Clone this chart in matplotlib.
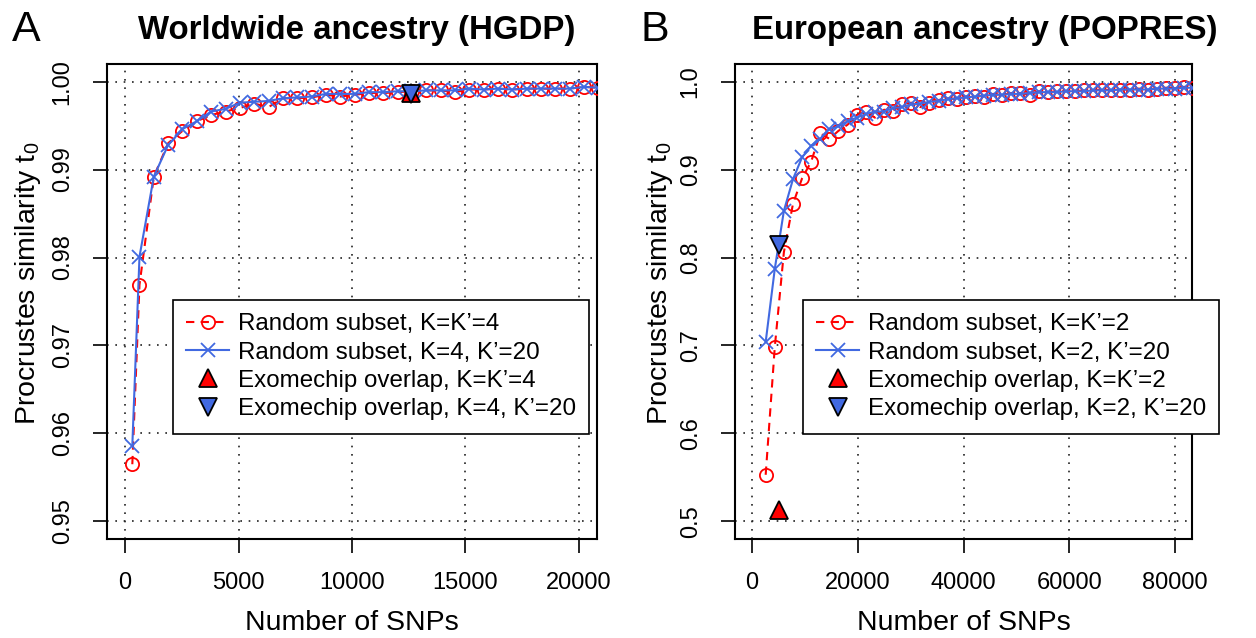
import matplotlib
matplotlib.use("Agg")
import matplotlib.pyplot as plt
from matplotlib.lines import Line2D

plt.rcParams["font.family"] = ["Liberation Sans", "DejaVu Sans"]
plt.rcParams["mathtext.fontset"] = "custom"
plt.rcParams["mathtext.rm"] = "Liberation Sans"
plt.rcParams["mathtext.it"] = "Liberation Sans"

# ---- Panel A: worldwide ancestry (HGDP) ----
hgdp_snps = [316, 632, 1264, 1896, 2528, 3160, 3792, 4424, 5056, 5688, 6320,
             6952, 7584, 8216, 8848, 9480, 10112, 10744, 11376, 12008, 12640,
             13272, 13904, 14536, 15168, 15800, 16432, 17064, 17696, 18328,
             18960, 19592, 20224, 20856]
hgdp_k4 = [0.9565, 0.9769, 0.9892, 0.9930, 0.9944, 0.9955, 0.9962, 0.9966,
           0.9970, 0.9975, 0.9971, 0.9981, 0.9981, 0.9982, 0.9985, 0.9983,
           0.9985, 0.9987, 0.9987, 0.9988, 0.9989, 0.9990, 0.9990, 0.9988,
           0.9991, 0.9991, 0.9992, 0.9991, 0.9992, 0.9992, 0.9992, 0.9992,
           0.9994, 0.9993]
hgdp_k20 = [0.9586, 0.9801, 0.9892, 0.9928, 0.9946, 0.9955, 0.9966, 0.9969,
            0.9976, 0.9977, 0.9978, 0.9981, 0.9982, 0.9983, 0.9986, 0.9986,
            0.9986, 0.9988, 0.9988, 0.9989, 0.9989, 0.9990, 0.9990, 0.9990,
            0.9992, 0.9991, 0.9992, 0.9991, 0.9992, 0.9992, 0.9992, 0.9992,
            0.9994, 0.9993]
hgdp_exome_snps = 12600
hgdp_exome_k4 = 0.9987
hgdp_exome_k20 = 0.9986

# ---- Panel B: European ancestry (POPRES) ----
popres_snps = [2600, 4320, 6040, 7760, 9480, 11200, 12920, 14640, 16360,
               18080, 19800, 21520, 23240, 24960, 26680, 28400, 30120, 31840,
               33560, 35280, 37000, 38720, 40440, 42160, 43880, 45600, 47320,
               49040, 50760, 52480, 54200, 55920, 57640, 59360, 61080, 62800,
               64520, 66240, 67960, 69680, 71400, 73120, 74840, 76560, 78280,
               80000, 81720, 83440]
popres_k2 = [0.553, 0.698, 0.806, 0.861, 0.890, 0.909, 0.941, 0.935, 0.944,
             0.951, 0.962, 0.966, 0.959, 0.968, 0.967, 0.974, 0.976, 0.971,
             0.976, 0.979, 0.981, 0.980, 0.983, 0.984, 0.983, 0.986, 0.985,
             0.987, 0.987, 0.985, 0.989, 0.988, 0.989, 0.989, 0.989, 0.990,
             0.990, 0.991, 0.990, 0.991, 0.991, 0.992, 0.991, 0.992, 0.993,
             0.993, 0.994, 0.993]
popres_k20 = [0.704, 0.787, 0.853, 0.889, 0.914, 0.927, 0.935, 0.946, 0.949,
              0.955, 0.959, 0.963, 0.966, 0.966, 0.970, 0.971, 0.974, 0.975,
              0.977, 0.978, 0.980, 0.981, 0.982, 0.983, 0.984, 0.985, 0.985,
              0.986, 0.986, 0.987, 0.988, 0.988, 0.988, 0.989, 0.989, 0.989,
              0.990, 0.990, 0.990, 0.991, 0.991, 0.991, 0.991, 0.992, 0.992,
              0.992, 0.993, 0.993]
popres_exome_snps = 5120
popres_exome_k2 = 0.513
popres_exome_k20 = 0.814

RED = "#FF0000"
BLUE = "#4169E1"

TICK_FS = 17
LABEL_FS = 20.5
TITLE_FS = 23.8
LEG_FS = 17.4


def draw_panel(ax, x, y_same, y_k20, ex_x, ex_same, ex_k20, xlim, ylim,
               xticks, yticks, ytick_labels, legend_labels, legend_anchor):
    ax.set_xlim(xlim[0] - 0.04 * (xlim[1] - xlim[0]),
                xlim[1] + 0.04 * (xlim[1] - xlim[0]))
    ax.set_ylim(ylim[0] - 0.04 * (ylim[1] - ylim[0]),
                ylim[1] + 0.04 * (ylim[1] - ylim[0]))
    for t in xticks:
        ax.axvline(t, color="#222222", lw=1.2, ls=(0, (1, 4)), zorder=1)
    for t in yticks:
        ax.axhline(t, color="#222222", lw=1.2, ls=(0, (1, 4)), zorder=1)

    ax.plot(x, y_same, color=RED, ls=(0, (4, 3)), lw=1.5, marker="o",
            ms=9.5, mfc="none", mec=RED, mew=1.3, zorder=3)
    ax.plot(x, y_k20, color=BLUE, ls="-", lw=1.5, marker="x",
            ms=10, mec=BLUE, mew=1.3, zorder=4)
    ax.plot([ex_x], [ex_same], ls="none", marker="^", ms=13, mfc=RED,
            mec="black", mew=1.3, zorder=5)
    ax.plot([ex_x], [ex_k20], ls="none", marker="v", ms=13, mfc=BLUE,
            mec="black", mew=1.3, zorder=6)

    ax.set_xticks(xticks)
    ax.set_xticklabels([str(t) for t in xticks])
    ax.set_yticks(yticks)
    ax.set_yticklabels(ytick_labels, rotation=90, va="center")
    ax.tick_params(axis="both", direction="out", length=10, width=1.2,
                   labelsize=TICK_FS, top=False, right=False, pad=14)
    for s in ax.spines.values():
        s.set_linewidth(1.5)
        s.set_color("black")

    ax.set_xlabel("Number of SNPs", fontsize=LABEL_FS, labelpad=11)
    ax.set_ylabel("Procrustes similarity t$_0$", fontsize=LABEL_FS)
    ax.yaxis.set_label_coords(-0.131, 0.539)

    handles = [
        Line2D([], [], color=RED, ls=(0, (4, 3)), lw=1.5, marker="o",
               ms=9.5, mfc="none", mec=RED, mew=1.3),
        Line2D([], [], color=BLUE, ls="-", lw=1.5, marker="x", ms=10,
               mec=BLUE, mew=1.3),
        Line2D([], [], ls="none", marker="^", ms=13, mfc=RED, mec="black",
               mew=1.3),
        Line2D([], [], ls="none", marker="v", ms=13, mfc=BLUE, mec="black",
               mew=1.3),
    ]
    leg = ax.legend(handles, legend_labels, loc="upper left",
                    bbox_to_anchor=legend_anchor, fontsize=LEG_FS,
                    frameon=True, fancybox=False, framealpha=1,
                    edgecolor="black", borderpad=0.55, labelspacing=0.26,
                    handlelength=1.75, handletextpad=0.38, borderaxespad=0)
    leg.get_frame().set_linewidth(1.2)
    leg.set_zorder(10)


fig = plt.figure(figsize=(12.56, 6.38), dpi=100)
ax1 = fig.add_axes([107 / 1256, 1 - 539 / 638, 490 / 1256, 475 / 638])
ax2 = fig.add_axes([735 / 1256, 1 - 539 / 638, 457 / 1256, 475 / 638])

draw_panel(ax1, hgdp_snps, hgdp_k4, hgdp_k20, hgdp_exome_snps,
           hgdp_exome_k4, hgdp_exome_k20, (0, 20000), (0.95, 1.0),
           [0, 5000, 10000, 15000, 20000],
           [0.95, 0.96, 0.97, 0.98, 0.99, 1.00],
           ["0.95", "0.96", "0.97", "0.98", "0.99", "1.00"],
           ["Random subset, K=K’=4", "Random subset, K=4, K’=20",
            "Exomechip overlap, K=K’=4", "Exomechip overlap, K=4, K’=20"],
           (0.135, 0.503))

draw_panel(ax2, popres_snps, popres_k2, popres_k20, popres_exome_snps,
           popres_exome_k2, popres_exome_k20, (0, 80000), (0.5, 1.0),
           [0, 20000, 40000, 60000, 80000],
           [0.5, 0.6, 0.7, 0.8, 0.9, 1.0],
           ["0.5", "0.6", "0.7", "0.8", "0.9", "1.0"],
           ["Random subset, K=K’=2", "Random subset, K=2, K’=20",
            "Exomechip overlap, K=K’=2", "Exomechip overlap, K=2, K’=20"],
           (0.149, 0.503))

fig.text(357 / 1256, 1 - 30 / 638, "Worldwide ancestry (HGDP)",
         fontsize=TITLE_FS, fontweight="bold", ha="center", va="center")
fig.text(985 / 1256, 1 - 30 / 638, "European ancestry (POPRES)",
         fontsize=TITLE_FS, fontweight="bold", ha="center", va="center")
fig.text(12 / 1256, 1 - 10 / 638, "A", fontsize=31, ha="left", va="top")
fig.text(641 / 1256, 1 - 10 / 638, "B", fontsize=31, ha="left", va="top")

fig.savefig("out.png", dpi=100)
